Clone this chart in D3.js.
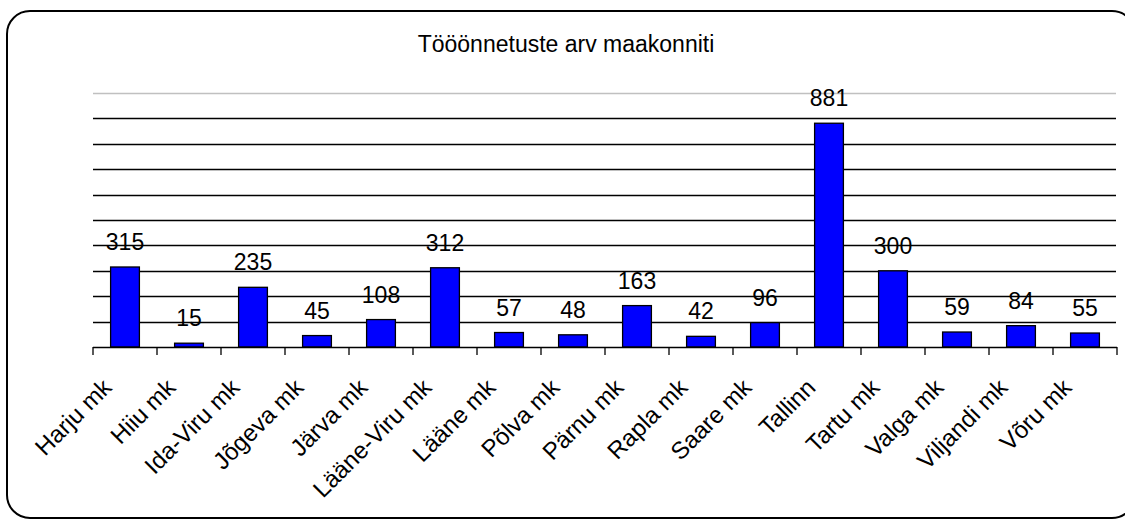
<!DOCTYPE html>
<html>
<head>
<meta charset="utf-8">
<script src="https://cdn.jsdelivr.net/npm/d3@7"></script>
<style>
  html, body { margin: 0; padding: 0; background: #fff; }
  svg { display: block; font-family: Arial, "Liberation Sans", sans-serif; }
</style>
</head>
<body>
<svg id="chart" width="1125" height="519"></svg>
<script>
// Road accidents by county
const categories = ["Harju mk", "Hiiu mk", "Ida-Viru mk", "Jõgeva mk", "Järva mk", "Lääne-Viru mk",
  "Lääne mk", "Põlva mk", "Pärnu mk", "Rapla mk", "Saare mk", "Tallinn", "Tartu mk",
  "Valga mk", "Viljandi mk", "Võru mk"];
const values = [315, 15, 235, 45, 108, 312, 57, 48, 163, 42, 96, 881, 300, 59, 84, 55];
const gridValues = [100, 200, 300, 400, 500, 600, 700, 800, 900, 1000];
const title = "Tööönnetuste arv maakonniti";

const svg = d3.select("#chart");

// outer frame with rounded corners
svg.append("rect")
  .attr("x", 7).attr("y", 11)
  .attr("width", 1128).attr("height", 507)
  .attr("rx", 23).attr("ry", 23)
  .attr("fill", "#fff")
  .attr("stroke", "#000")
  .attr("stroke-width", 2);

const plot = { left: 93, right: 1117, top: 93, bottom: 347 };

const x = d3.scaleBand()
  .domain(categories)
  .range([plot.left, plot.right])
  .paddingInner(0.55)
  .paddingOuter(0.275);

const band = (plot.right - plot.left) / categories.length;

const y = d3.scaleLinear()
  .domain([0, 1000])
  .range([plot.bottom, plot.top]);

// horizontal gridlines
svg.append("g")
  .selectAll("line")
  .data(gridValues)
  .join("line")
  .attr("x1", plot.left)
  .attr("x2", plot.right - 1)
  .attr("y1", d => Math.round(y(d)) + 0.5)
  .attr("y2", d => Math.round(y(d)) + 0.5)
  .attr("stroke", d => d === 1000 ? "#c0c0c0" : "#000")
  .attr("stroke-width", 1.3);

// title
svg.append("text")
  .attr("x", 566)
  .attr("y", 52)
  .attr("text-anchor", "middle")
  .attr("font-size", 23)
  .attr("fill", "#000")
  .text(title);

// bars
svg.append("g")
  .selectAll("rect")
  .data(values)
  .join("rect")
  .attr("x", (d, i) => x(categories[i]))
  .attr("width", x.bandwidth())
  .attr("y", d => y(d))
  .attr("height", d => plot.bottom - y(d))
  .attr("fill", "#0000ff")
  .attr("stroke", "#000")
  .attr("stroke-width", 1.3);

// value labels
svg.append("g")
  .selectAll("text")
  .data(values)
  .join("text")
  .attr("x", (d, i) => x(categories[i]) + x.bandwidth() / 2)
  .attr("y", d => y(d) - 17)
  .attr("text-anchor", "middle")
  .attr("font-size", 23)
  .attr("fill", "#000")
  .text(d => d);

// category axis
const tickPositions = d3.range(categories.length + 1).map(i => plot.left + i * band);
const axisG = svg.append("g");
axisG.append("line")
  .attr("x1", plot.left).attr("x2", plot.right)
  .attr("y1", plot.bottom + 0.5).attr("y2", plot.bottom + 0.5)
  .attr("stroke", "#000").attr("stroke-width", 1.3);
axisG.selectAll("line.tick")
  .data(tickPositions)
  .join("line")
  .attr("class", "tick")
  .attr("x1", d => Math.round(d)).attr("x2", d => Math.round(d))
  .attr("y1", plot.bottom).attr("y2", plot.bottom + 8)
  .attr("stroke", "#000").attr("stroke-width", 1.3);

axisG.selectAll("text")
  .data(categories)
  .join("text")
  .attr("text-anchor", "end")
  .attr("font-size", 24)
  .attr("fill", "#000")
  .attr("transform", d => `translate(${x(d) + x.bandwidth() / 2 - 12},389) rotate(-45)`)
  .text(d => d);
</script>
</body>
</html>
